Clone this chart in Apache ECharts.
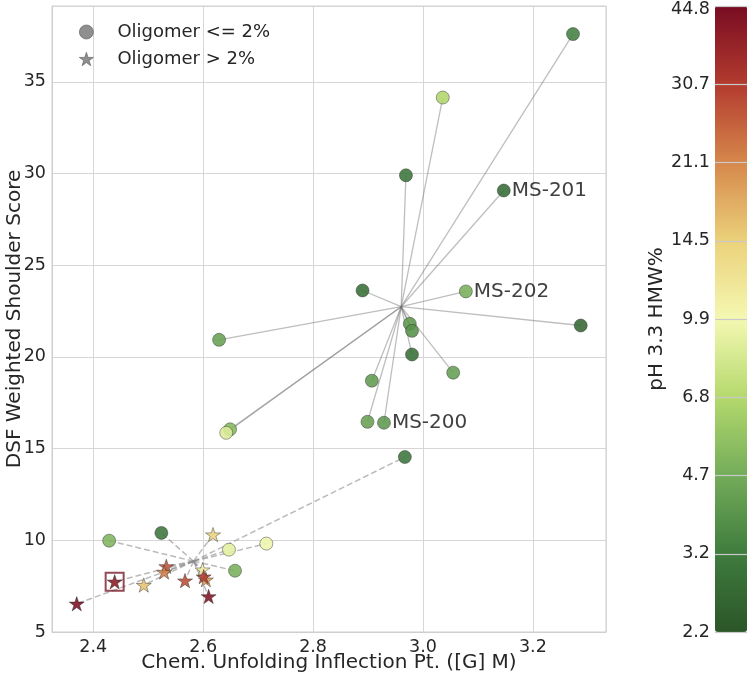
<!DOCTYPE html>
<html><head><meta charset="utf-8">
<script src="https://cdn.jsdelivr.net/npm/echarts@6/dist/echarts.min.js"></script>
<style>html,body{margin:0;padding:0;background:#fff}#c{width:750px;height:678px}</style>
</head><body><div id="c"></div>
<script>
// ---- Data: "With HV:T108R" group (all oligomer <= 2%) ----
const withX   = [3.273, 3.036, 2.969, 3.147, 2.890, 3.078, 3.287, 2.976, 2.980, 2.980, 3.055, 2.629, 2.907, 2.899, 2.929, 2.649, 2.642];
const withY   = [37.60, 34.14, 29.90, 29.07, 23.62, 23.57, 21.71, 21.80, 21.42, 20.13, 19.14, 20.93, 18.70, 16.46, 16.41, 16.05, 15.86];
const withHMW = [3.3,   6.6,   3.0,   2.7,   2.8,   4.8,   2.6,   4.0,   3.8,   2.8,   4.2,   4.3,   4.1,   4.3,   4.0,   5.2,   8.6];
const withNames = ['', '', '', 'MS-201', '', 'MS-202', '', '', '', '', '', '', '', '', 'MS-200', '', ''];

// ---- Data: "Without HV:T108R" group ----
// oligomer <= 2% (circles)
const woCircX   = [2.429, 2.524, 2.647, 2.715, 2.658, 2.967];
const woCircY   = [9.98, 10.40, 9.49, 9.82, 8.34, 14.54];
const woCircHMW = [5.0,  3.0,   9.0,  9.6,  4.8,  3.0];
// oligomer > 2% (stars)
const woStarX   = [2.618, 2.599, 2.605, 2.533, 2.529, 2.567, 2.601, 2.492, 2.439, 2.610, 2.370];
const woStarY   = [10.31, 8.40, 7.85, 8.58, 8.27, 7.80, 8.02, 7.56, 7.74, 6.94, 6.54];
const woStarHMW = [14.0, 11.0, 19.0, 27.0, 22.0, 28.0, 31.0, 15.5, 40.0, 42.0, 44.0];
// highlighted (boxed) sample
const boxedX = [2.439];
const boxedY = [7.74];

// ---- Ticks ----
const xTicks  = [2.4, 2.6, 2.8, 3.0, 3.2];
const yTicks  = [5, 10, 15, 20, 25, 30, 35];
const cbTicks = ['2.2', '3.2', '4.7', '6.8', '9.9', '14.5', '21.1', '30.7', '44.8'];
const cbColors = ['#2b5628', '#3f7c3e', '#73ac59', '#b4d96d', '#f4f8b2', '#ebd17a', '#d6874b', '#b33b2f', '#780c22'];

const annotations = [
  {text: 'With HV:T108R', x: 2.649, y: 26.34},
  {text: 'Without HV:T108R', x: 2.700, y: 7.87}
];

const FONT = 'DejaVu Sans';
const STAR = 'path://M50,0 L61.23,34.55 L97.55,34.55 L68.17,55.90 L79.39,90.45 L50,69.1 L20.61,90.45 L31.83,55.90 L2.45,34.55 L38.77,34.55 Z';
const lg = Math.log;
const cbMin = lg(parseFloat(cbTicks[0])), cbMax = lg(parseFloat(cbTicks[cbTicks.length - 1]));

function mean(a) { return a.reduce((s, v) => s + v, 0) / a.length; }
const withHub = [mean(withX), mean(withY)];
const woAllX = woCircX.concat(woStarX), woAllY = woCircY.concat(woStarY);
const woHub = [mean(woAllX), mean(woAllY)];

const withSpokes = withX.map((x, i) => ({coords: [withHub, [x, withY[i]]]}));
const woSpokes = woAllX.map((x, i) => ({coords: [woHub, [x, woAllY[i]]]}));

const circleData = withX.map((x, i) => {
  const d = {value: [x, withY[i], lg(withHMW[i])]};
  if (withNames[i]) d.label = {show: true, formatter: withNames[i]};
  return d;
}).concat(woCircX.map((x, i) => ({value: [x, woCircY[i], lg(woCircHMW[i])]})));
const starData = woStarX.map((x, i) => ({value: [x, woStarY[i], lg(woStarHMW[i])]}));

function inTicks(v, ticks) { return ticks.some(t => Math.abs(t - v) < 1e-6); }

const chart = echarts.init(document.getElementById('c'), null, {renderer: 'canvas'});
chart.setOption({
  animation: false,
  backgroundColor: '#fff',
  textStyle: {fontFamily: FONT},
  grid: [
    {left: 52, right: 144, top: 6, bottom: 46, show: true, borderColor: '#cfcfcf', borderWidth: 1,
     backgroundColor: 'transparent', containLabel: false, outerBoundsMode: 'none'},
    {left: 715, width: 32, top: 6, bottom: 46, show: false, containLabel: false, outerBoundsMode: 'none'}
  ],
  xAxis: [
    {type: 'value', gridIndex: 0, min: 2.325, max: 3.333,
     name: 'Chem. Unfolding Inflection Pt. ([G] M)', nameLocation: 'middle', nameGap: 21, nameMoveOverlap: false,
     nameTextStyle: {fontSize: 20, color: '#262626', fontFamily: FONT, verticalAlign: 'top'},
     axisLine: {show: true, lineStyle: {color: '#cfcfcf'}}, axisTick: {show: false},
     axisLabel: {fontSize: 17.5, color: '#262626', fontFamily: FONT, margin: 6,
       formatter: v => inTicks(v, xTicks) ? v.toFixed(1) : ''},
     splitLine: {show: true, lineStyle: {color: '#d6d6d6', width: 1}}},
    {type: 'value', gridIndex: 1, show: false, min: 0, max: 1}
  ],
  yAxis: [
    {type: 'value', gridIndex: 0, min: 5, max: 39.13, interval: 5,
     name: 'DSF Weighted Shoulder Score', nameLocation: 'middle', nameGap: 27, nameRotate: 90, nameMoveOverlap: false,
     nameTextStyle: {fontSize: 20, color: '#262626', fontFamily: FONT},
     axisLine: {show: true, lineStyle: {color: '#cfcfcf'}}, axisTick: {show: false},
     axisLabel: {fontSize: 17.5, color: '#262626', fontFamily: FONT, margin: 6,
       formatter: v => inTicks(v, yTicks) ? String(v) : ''},
     splitLine: {show: true, lineStyle: {color: '#d6d6d6', width: 1}}},
    {type: 'value', gridIndex: 1, min: 0, max: cbTicks.length - 1, interval: 1, z: 10,
     name: 'pH 3.3 HMW%', nameLocation: 'middle', nameGap: 48, nameRotate: 90,
     nameTextStyle: {fontSize: 20, color: '#262626', fontFamily: FONT},
     axisLine: {show: false}, axisTick: {show: false},
     axisLabel: {fontSize: 17.5, color: '#262626', fontFamily: FONT, margin: 5,
       formatter: v => {
         const i = Math.round(v);
         if (i === cbTicks.length - 1) return '{top|' + cbTicks[i] + '}';
         return cbTicks[i] || '';
       },
       rich: {top: {fontSize: 17.5, color: '#262626', fontFamily: FONT, padding: [6, 0, 0, 0]}}},
     splitLine: {show: true, lineStyle: {color: '#c9c9c9', width: 1.2}}}
  ],
  visualMap: {
    type: 'continuous', seriesIndex: [2, 3], dimension: 2,
    min: cbMin, max: cbMax, calculable: false, realtime: false,
    inRange: {color: cbColors},
    left: 715, top: 6, itemWidth: 32, itemHeight: 626, padding: 0,
    text: null, showLabel: false, hoverLink: false
  },
  legend: {
    left: 74, top: 18, orient: 'vertical', itemWidth: 14, itemHeight: 14, itemGap: 9,
    textStyle: {fontSize: 18, color: '#262626', fontFamily: FONT, padding: [0, 0, 0, 19]},
    data: [
      {name: 'Oligomer <= 2%', icon: 'circle', itemStyle: {color: '#7f7f7f', borderColor: '#666', borderWidth: 0.8}},
      {name: 'Oligomer > 2%', icon: STAR, itemStyle: {color: '#7f7f7f', borderColor: '#666', borderWidth: 0.8}}
    ]
  },
  series: [
    {type: 'lines', coordinateSystem: 'cartesian2d', xAxisIndex: 0, yAxisIndex: 0, z: 1, silent: true,
     lineStyle: {color: 'rgba(110,110,110,0.45)', width: 1.3, type: 'solid', opacity: 1},
     data: withSpokes},
    {type: 'lines', coordinateSystem: 'cartesian2d', xAxisIndex: 0, yAxisIndex: 0, z: 1, silent: true,
     lineStyle: {color: 'rgba(140,140,140,0.6)', width: 1.5, type: [6, 3], opacity: 1},
     data: woSpokes},
    {name: 'Oligomer <= 2%', type: 'scatter', xAxisIndex: 0, yAxisIndex: 0, z: 3,
     symbol: 'circle', symbolSize: 13,
     itemStyle: {color: '#7f7f7f', borderColor: 'rgba(40,40,40,0.55)', borderWidth: 0.9, opacity: 0.88},
     label: {show: false, position: 'right', distance: 1, fontSize: 20, color: '#262626', fontFamily: FONT},
     data: circleData},
    {name: 'Oligomer > 2%', type: 'scatter', xAxisIndex: 0, yAxisIndex: 0, z: 3,
     symbol: STAR, symbolSize: 15, symbolKeepAspect: true,
     itemStyle: {color: '#7f7f7f', borderColor: 'rgba(40,40,40,0.55)', borderWidth: 0.9, opacity: 0.88},
     data: starData},
    {type: 'scatter', xAxisIndex: 0, yAxisIndex: 0, z: 4, silent: true,
     symbol: 'rect', symbolSize: 18,
     itemStyle: {color: 'rgba(0,0,0,0)', borderColor: '#7a1a2a', borderWidth: 2},
     data: boxedX.map((x, i) => [x, boxedY[i]])},
    {type: 'scatter', xAxisIndex: 0, yAxisIndex: 0, z: 5, silent: true,
     symbol: 'none', symbolSize: 0,
     label: {show: true, position: 'right', distance: 0, fontSize: 20, color: '#262626', fontFamily: FONT,
       formatter: p => annotations[p.dataIndex].text},
     data: annotations.map(a => [a.x, a.y])}
  ]
});
</script></body></html>
